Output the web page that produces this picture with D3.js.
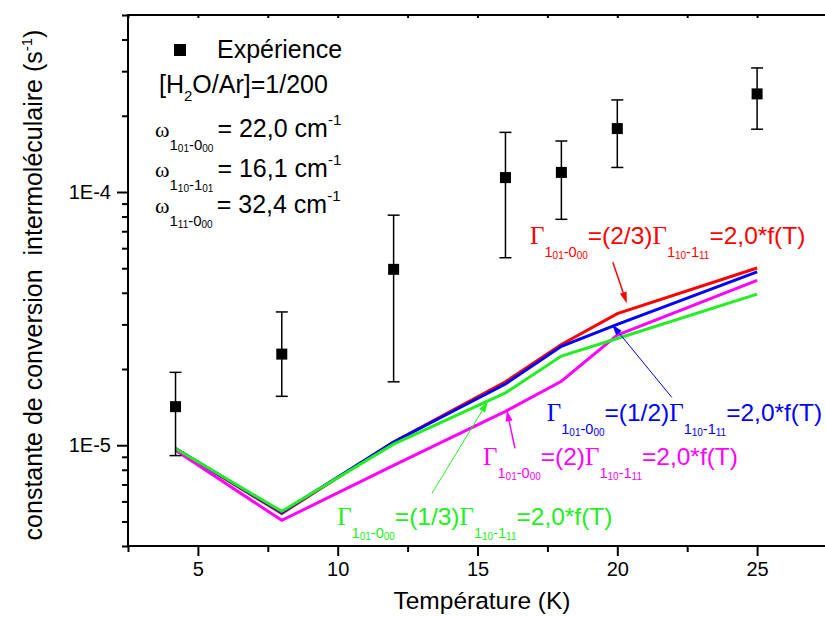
<!DOCTYPE html>
<html><head><meta charset="utf-8">
<script src="https://cdn.jsdelivr.net/npm/d3@7"></script>
<style>
html,body{margin:0;padding:0;background:#fff;}
svg{display:block;}
</style></head>
<body>
<svg id="chart" width="825" height="617"></svg>
<script>
// ---------- data ----------
const temps = [4.2, 8, 12, 16, 18, 20, 25];
const expValues = [1.42e-5, 2.29e-5, 4.95e-5, 1.14e-4, 1.195e-4, 1.78e-4, 2.44e-4];
const expUpper  = [1.94e-5, 3.36e-5, 8.1e-5, 1.72e-4, 1.59e-4, 2.31e-4, 3.09e-4];
const expLower  = [9.1e-6, 1.56e-5, 1.78e-5, 5.5e-5, 7.8e-5, 1.25e-4, 1.77e-4];
const redValues     = [9.7e-6, 5.38e-6, 1.03e-5, 1.78e-5, 2.50e-5, 3.31e-5, 5.01e-5];
const blueValues    = [9.7e-6, 5.43e-6, 1.03e-5, 1.745e-5, 2.46e-5, 3.0e-5, 4.84e-5];
const magentaValues = [9.55e-6, 5.05e-6, 8.32e-6, 1.36e-5, 1.79e-5, 2.72e-5, 4.48e-5];
const greenValues   = [9.7e-6, 5.48e-6, 1.01e-5, 1.61e-5, 2.25e-5, 2.64e-5, 3.95e-5];
const xMajorTicks = [5, 10, 15, 20, 25];
const xMinorTicks = [2.5, 7.5, 12.5, 17.5, 22.5, 27.5];
const yMajorTicks = [1e-5, 1e-4];
const yTickLabels = ["1E-5", "1E-4"];
const yMinorTicks = [4e-6,5e-6,6e-6,7e-6,8e-6,9e-6,2e-5,3e-5,4e-5,5e-5,6e-5,7e-5,8e-5,9e-5,2e-4,3e-4,4e-4,5e-4];

// ---------- layout ----------
const W = 825, H = 617;
const plot = {left: 128, right: 827, top: 15, bottom: 546};
const sans = "Arial, 'Liberation Sans', Helvetica, sans-serif";
const serif = "'Times New Roman', 'Liberation Serif', serif";

const svg = d3.select("#chart");
svg.append("rect").attr("width", W).attr("height", H).attr("fill", "#fff");

const x = d3.scaleLinear().domain([2.5, 27.5]).range([plot.left, plot.right]);
const y = d3.scaleLog().domain([4e-6, 5e-4]).range([plot.bottom, plot.top]);

// ---------- axes ----------
const axisG = svg.append("g");
const xAxis = d3.axisBottom(x).tickValues(xMajorTicks).tickSize(10).tickPadding(6).tickFormat(d3.format("d"));
const gx = axisG.append("g").attr("transform", `translate(0,${plot.bottom})`).call(xAxis);
gx.select(".domain").remove();
gx.selectAll("line").attr("stroke", "#000").attr("stroke-width", 2);
gx.selectAll("text").attr("font-family", sans).attr("font-size", 20).attr("fill", "#000").attr("dy", "0.71em");
const xAxisMinor = d3.axisBottom(x).tickValues(xMinorTicks).tickSize(6).tickFormat("");
const gxm = axisG.append("g").attr("transform", `translate(0,${plot.bottom})`).call(xAxisMinor);
gxm.select(".domain").remove();
gxm.selectAll("line").attr("stroke", "#000").attr("stroke-width", 2);

const topAxis = d3.axisBottom(x).tickValues(xMajorTicks.concat(xMinorTicks)).tickSize(3).tickFormat("");
const gt = axisG.append("g").attr("transform", `translate(0,${plot.top})`).call(topAxis);
gt.select(".domain").remove();
gt.selectAll("line").attr("stroke", "#000").attr("stroke-width", 2);

const yAxis = d3.axisLeft(y).tickValues(yMajorTicks).tickSize(11).tickPadding(6)
  .tickFormat((d, i) => yTickLabels[i]);
const gy = axisG.append("g").attr("transform", `translate(${plot.left},0)`).call(yAxis);
gy.select(".domain").remove();
gy.selectAll("line").attr("stroke", "#000").attr("stroke-width", 2);
gy.selectAll("text").attr("font-family", sans).attr("font-size", 20).attr("fill", "#000");
const yAxisMinor = d3.axisLeft(y).tickValues(yMinorTicks).tickSize(6).tickFormat("");
const gym = axisG.append("g").attr("transform", `translate(${plot.left},0)`).call(yAxisMinor);
gym.select(".domain").remove();
gym.selectAll("line").attr("stroke", "#000").attr("stroke-width", 2);

svg.append("rect").attr("x", plot.left).attr("y", plot.top)
  .attr("width", plot.right - plot.left).attr("height", plot.bottom - plot.top)
  .attr("fill", "none").attr("stroke", "#000").attr("stroke-width", 2);

// ---------- axis titles ----------
svg.append("text").attr("x", 482).attr("y", 609).attr("text-anchor", "middle")
  .attr("font-family", sans).attr("font-size", 24.5).text("Température (K)");
const yt = svg.append("text").attr("transform", "translate(42,285) rotate(-90)")
  .attr("text-anchor", "middle").attr("font-family", sans).attr("font-size", 25);
yt.append("tspan").text("constante de conversion\u00a0 intermoléculaire (s");
yt.append("tspan").attr("dy", -10).attr("font-size", 15).text("-1");
yt.append("tspan").attr("dy", 10).text(")");

// ---------- model lines ----------
const line = d3.line().x((d, i) => x(temps[i])).y(d => y(d));
const series = [
  {vals: redValues, color: "#ff0000"},
  {vals: blueValues, color: "#0000ff"},
  {vals: magentaValues, color: "#ff00ff"},
  {vals: greenValues, color: "#22ee22"}
];
svg.append("g").selectAll("path").data(series).join("path")
  .attr("d", s => line(s.vals)).attr("fill", "none")
  .attr("stroke", s => s.color).attr("stroke-width", 3).attr("stroke-linejoin", "miter");

// ---------- experiment with error bars ----------
const exp = temps.map((t, i) => ({t, v: expValues[i], hi: expUpper[i], lo: expLower[i]}));
const eg = svg.append("g");
eg.selectAll("line.v").data(exp).join("line")
  .attr("x1", d => x(d.t)).attr("x2", d => x(d.t))
  .attr("y1", d => y(d.hi)).attr("y2", d => y(d.lo))
  .attr("stroke", "#000").attr("stroke-width", 1.5);
["hi", "lo"].forEach(k => {
  eg.selectAll("line.c" + k).data(exp).join("line")
    .attr("x1", d => x(d.t) - 6).attr("x2", d => x(d.t) + 6)
    .attr("y1", d => y(d[k])).attr("y2", d => y(d[k]))
    .attr("stroke", "#000").attr("stroke-width", 1.5);
});
eg.selectAll("rect").data(exp).join("rect")
  .attr("x", d => x(d.t) - 5.5).attr("y", d => y(d.v) - 5.5)
  .attr("width", 11).attr("height", 11).attr("fill", "#000");

// ---------- rich text helper ----------
function rich(parent, px, py, parts, fill) {
  const t = parent.append("text").attr("x", px).attr("y", py).attr("fill", fill);
  parts.forEach(p => {
    const ts = t.append("tspan").attr("y", py + (p.dy || 0))
      .attr("font-size", p.s).attr("font-family", p.f || sans).text(p.t);
    if (p.dx) ts.attr("dx", p.dx);
  });
  return t;
}
function subPair(a, b, c, d, s1, s2) {
  return [
    {t: a, s: s1, dy: 13}, {t: b, s: s2, dy: 15},
    {t: c, s: s1, dy: 13}, {t: d, s: s2, dy: 15}
  ];
}
function gammaLabel(ratio) {
  return [{t: "Γ", s: 25, f: serif}]
    .concat(subPair("1", "01", "-0", "00", 14.5, 10))
    .concat([{t: "=(" + ratio + ")", s: 24.5}, {t: "Γ", s: 25, f: serif}])
    .concat(subPair("1", "10", "-1", "11", 14.5, 10))
    .concat([{t: "=2,0*f(T)", s: 24.5}]);
}

// ---------- annotations (data coordinates) ----------
const annotations = [
  {color: "#ff0000", ratio: "2/3", label: [16.88, 6.22e-5], from: [19.84, 5.28e-5], to: [20.34, 3.64e-5], w: 1.5},
  {color: "#0000ff", ratio: "1/2", label: [17.48, 1.242e-5], from: [21.95, 1.545e-5], to: [19.81, 3.0e-5], w: 1},
  {color: "#ff00ff", ratio: "2", label: [15.20, 8.32e-6], from: [16.34, 9.72e-6], to: [16.05, 1.373e-5], w: 1.5},
  {color: "#22ee22", ratio: "1/3", label: [9.98, 4.82e-6], from: [13.37, 6.45e-6], to: [15.37, 1.49e-5], w: 1}
];
const ag = svg.append("g");
annotations.forEach(a => {
  rich(ag, x(a.label[0]), y(a.label[1]), gammaLabel(a.ratio), a.color);
  const x1 = x(a.from[0]), y1 = y(a.from[1]), x2 = x(a.to[0]), y2 = y(a.to[1]);
  const ang = Math.atan2(y2 - y1, x2 - x1);
  const L = 11, Wd = 3.5;
  const bx = x2 - L * Math.cos(ang), by = y2 - L * Math.sin(ang);
  ag.append("line").attr("x1", x1).attr("y1", y1).attr("x2", bx).attr("y2", by)
    .attr("stroke", a.color).attr("stroke-width", a.w);
  const px = -Math.sin(ang), py = Math.cos(ang);
  ag.append("path")
    .attr("d", `M${x2},${y2}L${bx + px * Wd},${by + py * Wd}L${bx - px * Wd},${by - py * Wd}Z`)
    .attr("fill", a.color);
});

// ---------- legend / info block ----------
const lg = svg.append("g");
lg.append("rect").attr("x", 174).attr("y", 44).attr("width", 12).attr("height", 12).attr("fill", "#000");
lg.append("text").attr("x", 217).attr("y", 58).attr("font-family", sans).attr("font-size", 25).text("Expérience");
rich(lg, 159, 93, [{t: "[H", s: 25}, {t: "2", s: 15, dy: 8}, {t: "O/Ar]=1/200", s: 25}], "#000");
const omegaLines = [
  {subs: ["1", "01", "-0", "00"], val: "= 22,0 cm", yy: 137},
  {subs: ["1", "10", "-1", "01"], val: "= 16,1 cm", yy: 177},
  {subs: ["1", "11", "-0", "00"], val: "= 32,4 cm", yy: 213}
];
omegaLines.forEach(o => {
  rich(lg, 155, o.yy, [{t: "ω", s: 22, f: serif}]
    .concat(subPair(o.subs[0], o.subs[1], o.subs[2], o.subs[3], 15, 10))
    .concat([{t: o.val, s: 25, dx: 4}, {t: "-1", s: 15, dy: -12}]), "#000");
});
</script>
</body></html>
